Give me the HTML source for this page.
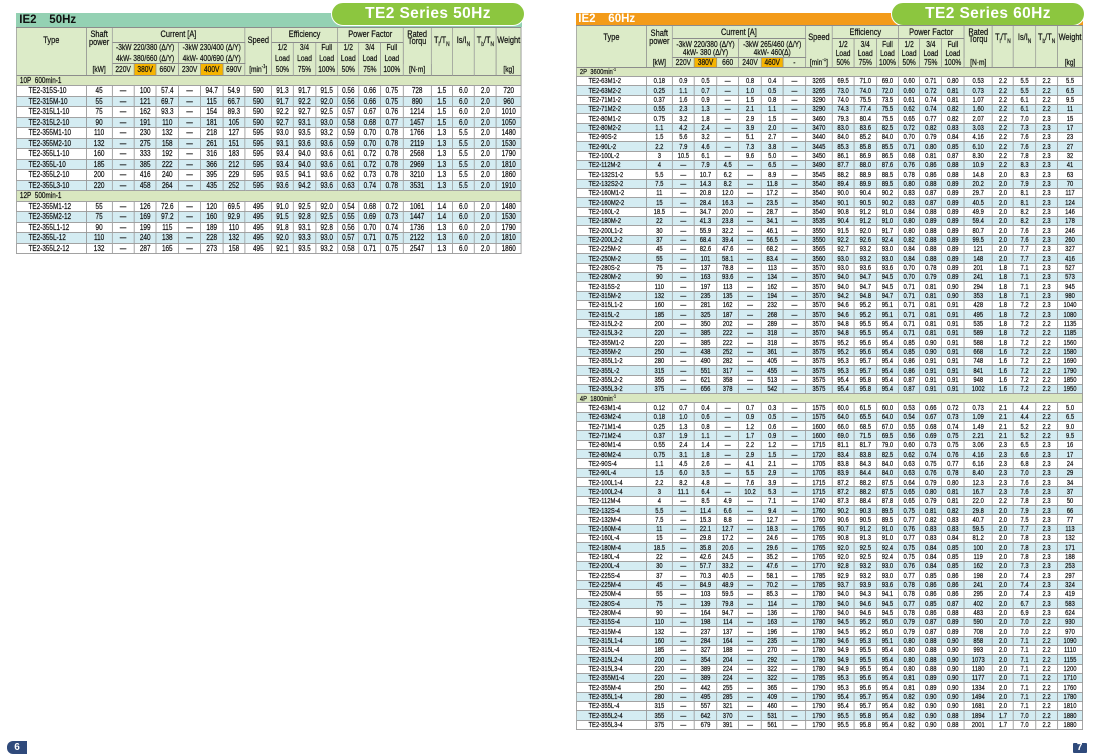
<!DOCTYPE html>
<html><head><meta charset="utf-8">
<style>
html,body{margin:0;padding:0}
body{width:1100px;height:756px;background:#fff;position:relative;overflow:hidden;font-family:"Liberation Sans",Arial,sans-serif}
.bar{position:absolute;font-weight:bold;font-size:11.5px;line-height:16px;white-space:nowrap}
.bar span{position:absolute;top:-1px}
.pill{position:absolute;top:2px;height:22px;width:192px;border-radius:12px;background:#8cc63f;border:1px solid #fff;color:#fff;font-weight:bold;font-size:15.5px;line-height:21px;text-align:center;letter-spacing:.4px}
.t{position:absolute;border-collapse:separate;border-spacing:0;table-layout:fixed;transform:scaleX(.78);transform-origin:0 0;border-left:1.28px solid #8c8c8c;border-top:1px solid #8c8c8c;color:#111;-webkit-text-stroke:0.22px #111}
.t td{padding:0;border-right:1.28px solid #8c8c8c;border-bottom:1px solid #a2a2a2;text-align:center;vertical-align:middle;white-space:nowrap;overflow:hidden;line-height:7.5px}
.t tr.h td{background:#dcebc8;font-size:8.5px;color:#111;border-bottom-color:#8c8c8c}
.t tr.ha td{font-size:9.5px}
.t td.nb{border-bottom:0}
.t td.vt{vertical-align:top}
.t td.y{background:#f6b400 !important}
.t tr.b td{background:#d4ecf2}
.t tr.g td{background:#d9e7c0}
.t tr:not(.h)>td:first-child{text-align:left;padding-left:15px}
.t tr.g>td:first-child{padding-left:4px}
sub,sup{font-size:65%;line-height:0}
.L{left:16px;top:26.7px;width:648.3px}
.L td{font-size:8.2px}
.L tr{height:10.5px}
.L tr.ha{height:15px}.L tr.hb{height:11px}.L tr.hc{height:10.6px}.L tr.hd{height:11.7px}
.R{left:576px;top:25.3px;width:650px}
.R td{font-size:7.5px}
.R tr{height:9.333px}
.R tr.ha{height:13px}.R tr.hb{height:10px}.R tr.hc{height:8.7px}.R tr.hd{height:9.7px}
.pg{position:absolute;background:#2f4a7b;color:#fff;font-weight:bold;font-size:10px;text-align:center}
</style></head><body>

<div class="bar" style="left:16px;top:12.7px;width:505.7px;height:14px;background:#94d1b3;color:#111">
<span style="left:3.3px">IE2</span><span style="left:33.3px">50Hz</span></div>
<div class="pill" style="left:331px">TE2 Series 50Hz</div>

<div class="bar" style="left:576px;top:12.7px;width:507px;height:12.6px;background:#f39b19;color:#fff">
<span style="left:2.3px;top:-1.6px">IE2</span><span style="left:32.3px;top:-1.6px">60Hz</span></div>
<div class="pill" style="left:891px">TE2 Series 60Hz</div>

<table class="t L">
<colgroup><col style="width:13.842%"><col style="width:5.082%"><col style="width:4.41%"><col style="width:4.35%"><col style="width:4.41%"><col style="width:4.429%"><col style="width:4.35%"><col style="width:4.41%"><col style="width:5.28%"><col style="width:4.271%"><col style="width:4.489%"><col style="width:4.291%"><col style="width:4.271%"><col style="width:4.291%"><col style="width:4.41%"><col style="width:5.616%"><col style="width:4.153%"><col style="width:4.41%"><col style="width:4.291%"><col style="width:4.944%"></colgroup>
<tr class="h ha"><td rowspan=4 class=vt style="padding-top:9.3px">Type<td rowspan=3 class="vt nb" style="padding-top:3.8px">Shaft<br>power<td colspan=6>Current [A]<td rowspan=3 class="vt nb" style="padding-top:9.3px">Speed<td colspan=3>Efficiency<td colspan=3>Power Factor<td rowspan=3 class="vt nb" style="padding-top:2.9px">Rated<br>Torqu<td rowspan=4 class=vt style="padding-top:9.3px">T<sub>l</sub>/T<sub>N</sub><td rowspan=4 class=vt style="padding-top:9.3px">Is/I<sub>N</sub><td rowspan=4 class=vt style="padding-top:9.3px">T<sub>b</sub>/T<sub>N</sub><td rowspan=3 class="vt nb" style="padding-top:9.3px">Weight
<tr class="h hb"><td colspan=3 class=nb>-3kW 220/380 (Δ/Y)<td colspan=3 class=nb>-3kW 230/400 (Δ/Y)<td class=nb>1/2<td class=nb>3/4<td class=nb>Full<td class=nb>1/2<td class=nb>3/4<td class=nb>Full
<tr class="h hc"><td colspan=3>4kW- 380/660 (Δ/Y)<td colspan=3>4kW- 400/690 (Δ/Y)<td class=nb>Load<td class=nb>Load<td class=nb>Load<td class=nb>Load<td class=nb>Load<td class=nb>Load
<tr class="h hd"><td>[kW]<td>220V<td class=y>380V<td>660V<td>230V<td class=y>400V<td>690V<td>[min<sup>-1</sup>]<td>50%<td>75%<td>100%<td>50%<td>75%<td>100%<td>[N·m]<td>[kg]
<tr class=g><td colspan=20>10P&nbsp; 600min-1
<tr><td>TE2-315S-10<td>45<td>—<td>100<td>57.4<td>—<td>94.7<td>54.9<td>590<td>91.3<td>91.7<td>91.5<td>0.56<td>0.66<td>0.75<td>728<td>1.5<td>6.0<td>2.0<td>720
<tr class=b><td>TE2-315M-10<td>55<td>—<td>121<td>69.7<td>—<td>115<td>66.7<td>590<td>91.7<td>92.2<td>92.0<td>0.56<td>0.66<td>0.75<td>890<td>1.5<td>6.0<td>2.0<td>960
<tr><td>TE2-315L1-10<td>75<td>—<td>162<td>93.3<td>—<td>154<td>89.3<td>590<td>92.2<td>92.7<td>92.5<td>0.57<td>0.67<td>0.76<td>1214<td>1.5<td>6.0<td>2.0<td>1010
<tr class=b><td>TE2-315L2-10<td>90<td>—<td>191<td>110<td>—<td>181<td>105<td>590<td>92.7<td>93.1<td>93.0<td>0.58<td>0.68<td>0.77<td>1457<td>1.5<td>6.0<td>2.0<td>1050
<tr><td>TE2-355M1-10<td>110<td>—<td>230<td>132<td>—<td>218<td>127<td>595<td>93.0<td>93.5<td>93.2<td>0.59<td>0.70<td>0.78<td>1766<td>1.3<td>5.5<td>2.0<td>1480
<tr class=b><td>TE2-355M2-10<td>132<td>—<td>275<td>158<td>—<td>261<td>151<td>595<td>93.1<td>93.6<td>93.6<td>0.59<td>0.70<td>0.78<td>2119<td>1.3<td>5.5<td>2.0<td>1530
<tr><td>TE2-355L1-10<td>160<td>—<td>333<td>192<td>—<td>316<td>183<td>595<td>93.4<td>94.0<td>93.6<td>0.61<td>0.72<td>0.78<td>2568<td>1.3<td>5.5<td>2.0<td>1790
<tr class=b><td>TE2-355L-10<td>185<td>—<td>385<td>222<td>—<td>366<td>212<td>595<td>93.4<td>94.0<td>93.6<td>0.61<td>0.72<td>0.78<td>2969<td>1.3<td>5.5<td>2.0<td>1810
<tr><td>TE2-355L2-10<td>200<td>—<td>416<td>240<td>—<td>395<td>229<td>595<td>93.5<td>94.1<td>93.6<td>0.62<td>0.73<td>0.78<td>3210<td>1.3<td>5.5<td>2.0<td>1860
<tr class=b><td>TE2-355L3-10<td>220<td>—<td>458<td>264<td>—<td>435<td>252<td>595<td>93.6<td>94.2<td>93.6<td>0.63<td>0.74<td>0.78<td>3531<td>1.3<td>5.5<td>2.0<td>1910
<tr class=g><td colspan=20>12P&nbsp; 500min-1
<tr><td>TE2-355M1-12<td>55<td>—<td>126<td>72.6<td>—<td>120<td>69.5<td>495<td>91.0<td>92.5<td>92.0<td>0.54<td>0.68<td>0.72<td>1061<td>1.4<td>6.0<td>2.0<td>1480
<tr class=b><td>TE2-355M2-12<td>75<td>—<td>169<td>97.2<td>—<td>160<td>92.9<td>495<td>91.5<td>92.8<td>92.5<td>0.55<td>0.69<td>0.73<td>1447<td>1.4<td>6.0<td>2.0<td>1530
<tr><td>TE2-355L1-12<td>90<td>—<td>199<td>115<td>—<td>189<td>110<td>495<td>91.8<td>93.1<td>92.8<td>0.56<td>0.70<td>0.74<td>1736<td>1.3<td>6.0<td>2.0<td>1790
<tr class=b><td>TE2-355L-12<td>110<td>—<td>240<td>138<td>—<td>228<td>132<td>495<td>92.0<td>93.3<td>93.0<td>0.57<td>0.71<td>0.75<td>2122<td>1.3<td>6.0<td>2.0<td>1810
<tr><td>TE2-355L2-12<td>132<td>—<td>287<td>165<td>—<td>273<td>158<td>495<td>92.1<td>93.5<td>93.2<td>0.58<td>0.71<td>0.75<td>2547<td>1.3<td>6.0<td>2.0<td>1860
</table>

<table class="t R">
<colgroup><col style="width:13.842%"><col style="width:5.082%"><col style="width:4.41%"><col style="width:4.35%"><col style="width:4.41%"><col style="width:4.429%"><col style="width:4.35%"><col style="width:4.41%"><col style="width:5.28%"><col style="width:4.271%"><col style="width:4.489%"><col style="width:4.291%"><col style="width:4.271%"><col style="width:4.291%"><col style="width:4.41%"><col style="width:5.616%"><col style="width:4.153%"><col style="width:4.41%"><col style="width:4.291%"><col style="width:4.944%"></colgroup>
<tr class="h ha"><td rowspan=4 class=vt style="padding-top:8px">Type<td rowspan=3 class="vt nb" style="padding-top:3.4px;line-height:8px">Shaft<br>power<td colspan=6>Current [A]<td rowspan=3 class="vt nb" style="padding-top:8px">Speed<td colspan=3>Efficiency<td colspan=3>Power Factor<td rowspan=3 class="vt nb" style="padding-top:2.6px;line-height:7px">Rated<br>Torqu<td rowspan=4 class=vt style="padding-top:8px">T<sub>l</sub>/T<sub>N</sub><td rowspan=4 class=vt style="padding-top:8px">Is/I<sub>N</sub><td rowspan=4 class=vt style="padding-top:8px">T<sub>b</sub>/T<sub>N</sub><td rowspan=3 class="vt nb" style="padding-top:8px">Weight
<tr class="h hb"><td colspan=3 class=nb>-3kW 220/380 (Δ/Y)<td colspan=3 class=nb>-3kW 265/460 (Δ/Y)<td class=nb>1/2<td class=nb>3/4<td class=nb>Full<td class=nb>1/2<td class=nb>3/4<td class=nb>Full
<tr class="h hc"><td colspan=3>4kW- 380 (Δ/Y)<td colspan=3>4kW- 460(Δ)<td class=nb>Load<td class=nb>Load<td class=nb>Load<td class=nb>Load<td class=nb>Load<td class=nb>Load
<tr class="h hd"><td>[kW]<td>220V<td class=y>380V<td>660<td>240V<td class=y>460V<td>-<td>[min<sup>-1</sup>]<td>50%<td>75%<td>100%<td>50%<td>75%<td>100%<td>[N·m]<td>[kg]
<tr class=g><td colspan=20>2P&nbsp; 3600min<sup>-1</sup>
<tr><td>TE2-63M1-2<td>0.18<td>0.9<td>0.5<td>—<td>0.8<td>0.4<td>—<td>3265<td>69.5<td>71.0<td>69.0<td>0.60<td>0.71<td>0.80<td>0.53<td>2.2<td>5.5<td>2.2<td>5.5
<tr class=b><td>TE2-63M2-2<td>0.25<td>1.1<td>0.7<td>—<td>1.0<td>0.5<td>—<td>3265<td>73.0<td>74.0<td>72.0<td>0.60<td>0.72<td>0.81<td>0.73<td>2.2<td>5.5<td>2.2<td>6.5
<tr><td>TE2-71M1-2<td>0.37<td>1.6<td>0.9<td>—<td>1.5<td>0.8<td>—<td>3290<td>74.0<td>75.5<td>73.5<td>0.61<td>0.74<td>0.81<td>1.07<td>2.2<td>6.1<td>2.2<td>9.5
<tr class=b><td>TE2-71M2-2<td>0.55<td>2.3<td>1.3<td>—<td>2.1<td>1.1<td>—<td>3290<td>74.3<td>77.4<td>75.5<td>0.62<td>0.74<td>0.82<td>1.60<td>2.2<td>6.1<td>2.2<td>11
<tr><td>TE2-80M1-2<td>0.75<td>3.2<td>1.8<td>—<td>2.9<td>1.5<td>—<td>3460<td>79.3<td>80.4<td>75.5<td>0.65<td>0.77<td>0.82<td>2.07<td>2.2<td>7.0<td>2.3<td>15
<tr class=b><td>TE2-80M2-2<td>1.1<td>4.2<td>2.4<td>—<td>3.9<td>2.0<td>—<td>3470<td>83.0<td>83.6<td>82.5<td>0.72<td>0.82<td>0.83<td>3.03<td>2.2<td>7.3<td>2.3<td>17
<tr><td>TE2-90S-2<td>1.5<td>5.6<td>3.2<td>—<td>5.1<td>2.7<td>—<td>3440<td>84.0<td>85.2<td>84.0<td>0.70<td>0.79<td>0.84<td>4.16<td>2.2<td>7.6<td>2.3<td>23
<tr class=b><td>TE2-90L-2<td>2.2<td>7.9<td>4.6<td>—<td>7.3<td>3.8<td>—<td>3445<td>85.3<td>85.8<td>85.5<td>0.71<td>0.80<td>0.85<td>6.10<td>2.2<td>7.6<td>2.3<td>27
<tr><td>TE2-100L-2<td>3<td>10.5<td>6.1<td>—<td>9.6<td>5.0<td>—<td>3450<td>86.1<td>86.9<td>86.5<td>0.68<td>0.81<td>0.87<td>8.30<td>2.2<td>7.8<td>2.3<td>32
<tr class=b><td>TE2-112M-2<td>4<td>—<td>7.9<td>4.5<td>—<td>6.5<td>—<td>3490<td>87.7<td>88.0<td>87.6<td>0.76<td>0.86<td>0.88<td>10.9<td>2.2<td>8.3<td>2.3<td>41
<tr><td>TE2-132S1-2<td>5.5<td>—<td>10.7<td>6.2<td>—<td>8.9<td>—<td>3545<td>88.2<td>88.9<td>88.5<td>0.78<td>0.86<td>0.88<td>14.8<td>2.0<td>8.3<td>2.3<td>63
<tr class=b><td>TE2-132S2-2<td>7.5<td>—<td>14.3<td>8.2<td>—<td>11.8<td>—<td>3540<td>89.4<td>89.9<td>89.5<td>0.80<td>0.88<td>0.89<td>20.2<td>2.0<td>7.9<td>2.3<td>70
<tr><td>TE2-160M1-2<td>11<td>—<td>20.8<td>12.0<td>—<td>17.2<td>—<td>3540<td>90.0<td>90.4<td>90.2<td>0.83<td>0.87<td>0.89<td>29.7<td>2.0<td>8.1<td>2.3<td>117
<tr class=b><td>TE2-160M2-2<td>15<td>—<td>28.4<td>16.3<td>—<td>23.5<td>—<td>3540<td>90.1<td>90.5<td>90.2<td>0.83<td>0.87<td>0.89<td>40.5<td>2.0<td>8.1<td>2.3<td>124
<tr><td>TE2-160L-2<td>18.5<td>—<td>34.7<td>20.0<td>—<td>28.7<td>—<td>3540<td>90.8<td>91.2<td>91.0<td>0.84<td>0.88<td>0.89<td>49.9<td>2.0<td>8.2<td>2.3<td>146
<tr class=b><td>TE2-180M-2<td>22<td>—<td>41.3<td>23.8<td>—<td>34.1<td>—<td>3535<td>90.4<td>91.2<td>91.0<td>0.80<td>0.89<td>0.89<td>59.4<td>2.0<td>8.2<td>2.3<td>178
<tr><td>TE2-200L1-2<td>30<td>—<td>55.9<td>32.2<td>—<td>46.1<td>—<td>3550<td>91.5<td>92.0<td>91.7<td>0.80<td>0.88<td>0.89<td>80.7<td>2.0<td>7.6<td>2.3<td>246
<tr class=b><td>TE2-200L2-2<td>37<td>—<td>68.4<td>39.4<td>—<td>56.5<td>—<td>3550<td>92.2<td>92.6<td>92.4<td>0.82<td>0.88<td>0.89<td>99.5<td>2.0<td>7.6<td>2.3<td>260
<tr><td>TE2-225M-2<td>45<td>—<td>82.6<td>47.6<td>—<td>68.2<td>—<td>3565<td>92.7<td>93.2<td>93.0<td>0.84<td>0.88<td>0.89<td>121<td>2.0<td>7.7<td>2.3<td>327
<tr class=b><td>TE2-250M-2<td>55<td>—<td>101<td>58.1<td>—<td>83.4<td>—<td>3560<td>93.0<td>93.2<td>93.0<td>0.84<td>0.88<td>0.89<td>148<td>2.0<td>7.7<td>2.3<td>416
<tr><td>TE2-280S-2<td>75<td>—<td>137<td>78.8<td>—<td>113<td>—<td>3570<td>93.0<td>93.6<td>93.6<td>0.70<td>0.78<td>0.89<td>201<td>1.8<td>7.1<td>2.3<td>527
<tr class=b><td>TE2-280M-2<td>90<td>—<td>163<td>93.6<td>—<td>134<td>—<td>3570<td>94.0<td>94.7<td>94.5<td>0.70<td>0.79<td>0.89<td>241<td>1.8<td>7.1<td>2.3<td>573
<tr><td>TE2-315S-2<td>110<td>—<td>197<td>113<td>—<td>162<td>—<td>3570<td>94.0<td>94.7<td>94.5<td>0.71<td>0.81<td>0.90<td>294<td>1.8<td>7.1<td>2.3<td>945
<tr class=b><td>TE2-315M-2<td>132<td>—<td>235<td>135<td>—<td>194<td>—<td>3570<td>94.2<td>94.8<td>94.7<td>0.71<td>0.81<td>0.90<td>353<td>1.8<td>7.1<td>2.3<td>980
<tr><td>TE2-315L1-2<td>160<td>—<td>281<td>162<td>—<td>232<td>—<td>3570<td>94.6<td>95.2<td>95.1<td>0.71<td>0.81<td>0.91<td>428<td>1.8<td>7.2<td>2.3<td>1040
<tr class=b><td>TE2-315L-2<td>185<td>—<td>325<td>187<td>—<td>268<td>—<td>3570<td>94.6<td>95.2<td>95.1<td>0.71<td>0.81<td>0.91<td>495<td>1.8<td>7.2<td>2.3<td>1080
<tr><td>TE2-315L2-2<td>200<td>—<td>350<td>202<td>—<td>289<td>—<td>3570<td>94.8<td>95.5<td>95.4<td>0.71<td>0.81<td>0.91<td>535<td>1.8<td>7.2<td>2.2<td>1135
<tr class=b><td>TE2-315L3-2<td>220<td>—<td>385<td>222<td>—<td>318<td>—<td>3570<td>94.8<td>95.5<td>95.4<td>0.71<td>0.81<td>0.91<td>589<td>1.8<td>7.2<td>2.2<td>1185
<tr><td>TE2-355M1-2<td>220<td>—<td>385<td>222<td>—<td>318<td>—<td>3575<td>95.2<td>95.6<td>95.4<td>0.85<td>0.90<td>0.91<td>588<td>1.8<td>7.2<td>2.2<td>1560
<tr class=b><td>TE2-355M-2<td>250<td>—<td>438<td>252<td>—<td>361<td>—<td>3575<td>95.2<td>95.6<td>95.4<td>0.85<td>0.90<td>0.91<td>668<td>1.6<td>7.2<td>2.2<td>1580
<tr><td>TE2-355L1-2<td>280<td>—<td>490<td>282<td>—<td>405<td>—<td>3575<td>95.3<td>95.7<td>95.4<td>0.86<td>0.91<td>0.91<td>748<td>1.6<td>7.2<td>2.2<td>1690
<tr class=b><td>TE2-355L-2<td>315<td>—<td>551<td>317<td>—<td>455<td>—<td>3575<td>95.3<td>95.7<td>95.4<td>0.86<td>0.91<td>0.91<td>841<td>1.6<td>7.2<td>2.2<td>1790
<tr><td>TE2-355L2-2<td>355<td>—<td>621<td>358<td>—<td>513<td>—<td>3575<td>95.4<td>95.8<td>95.4<td>0.87<td>0.91<td>0.91<td>948<td>1.6<td>7.2<td>2.2<td>1850
<tr class=b><td>TE2-355L3-2<td>375<td>—<td>656<td>378<td>—<td>542<td>—<td>3575<td>95.4<td>95.8<td>95.4<td>0.87<td>0.91<td>0.91<td>1002<td>1.6<td>7.2<td>2.2<td>1950
<tr class=g><td colspan=20>4P&nbsp; 1800min<sup>-1</sup>
<tr><td>TE2-63M1-4<td>0.12<td>0.7<td>0.4<td>—<td>0.7<td>0.3<td>—<td>1575<td>60.0<td>61.5<td>60.0<td>0.53<td>0.66<td>0.72<td>0.73<td>2.1<td>4.4<td>2.2<td>5.0
<tr class=b><td>TE2-63M2-4<td>0.18<td>1.0<td>0.6<td>—<td>0.9<td>0.5<td>—<td>1575<td>64.0<td>65.5<td>64.0<td>0.54<td>0.67<td>0.73<td>1.09<td>2.1<td>4.4<td>2.2<td>6.5
<tr><td>TE2-71M1-4<td>0.25<td>1.3<td>0.8<td>—<td>1.2<td>0.6<td>—<td>1600<td>66.0<td>68.5<td>67.0<td>0.55<td>0.68<td>0.74<td>1.49<td>2.1<td>5.2<td>2.2<td>9.0
<tr class=b><td>TE2-71M2-4<td>0.37<td>1.9<td>1.1<td>—<td>1.7<td>0.9<td>—<td>1600<td>69.0<td>71.5<td>69.5<td>0.56<td>0.69<td>0.75<td>2.21<td>2.1<td>5.2<td>2.2<td>9.5
<tr><td>TE2-80M1-4<td>0.55<td>2.4<td>1.4<td>—<td>2.2<td>1.2<td>—<td>1715<td>81.1<td>81.7<td>79.0<td>0.60<td>0.73<td>0.75<td>3.06<td>2.3<td>6.5<td>2.3<td>16
<tr class=b><td>TE2-80M2-4<td>0.75<td>3.1<td>1.8<td>—<td>2.9<td>1.5<td>—<td>1720<td>83.4<td>83.8<td>82.5<td>0.62<td>0.74<td>0.76<td>4.16<td>2.3<td>6.6<td>2.3<td>17
<tr><td>TE2-90S-4<td>1.1<td>4.5<td>2.6<td>—<td>4.1<td>2.1<td>—<td>1705<td>83.8<td>84.3<td>84.0<td>0.63<td>0.75<td>0.77<td>6.16<td>2.3<td>6.8<td>2.3<td>24
<tr class=b><td>TE2-90L-4<td>1.5<td>6.0<td>3.5<td>—<td>5.5<td>2.9<td>—<td>1705<td>83.9<td>84.4<td>84.0<td>0.63<td>0.76<td>0.78<td>8.40<td>2.3<td>7.0<td>2.3<td>29
<tr><td>TE2-100L1-4<td>2.2<td>8.2<td>4.8<td>—<td>7.6<td>3.9<td>—<td>1715<td>87.2<td>88.2<td>87.5<td>0.64<td>0.79<td>0.80<td>12.3<td>2.3<td>7.6<td>2.3<td>34
<tr class=b><td>TE2-100L2-4<td>3<td>11.1<td>6.4<td>—<td>10.2<td>5.3<td>—<td>1715<td>87.2<td>88.2<td>87.5<td>0.65<td>0.80<td>0.81<td>16.7<td>2.3<td>7.6<td>2.3<td>37
<tr><td>TE2-112M-4<td>4<td>—<td>8.5<td>4.9<td>—<td>7.1<td>—<td>1740<td>87.3<td>88.4<td>87.8<td>0.65<td>0.79<td>0.81<td>22.0<td>2.2<td>7.8<td>2.3<td>50
<tr class=b><td>TE2-132S-4<td>5.5<td>—<td>11.4<td>6.6<td>—<td>9.4<td>—<td>1760<td>90.2<td>90.3<td>89.5<td>0.75<td>0.81<td>0.82<td>29.8<td>2.0<td>7.9<td>2.3<td>66
<tr><td>TE2-132M-4<td>7.5<td>—<td>15.3<td>8.8<td>—<td>12.7<td>—<td>1760<td>90.6<td>90.5<td>89.5<td>0.77<td>0.82<td>0.83<td>40.7<td>2.0<td>7.5<td>2.3<td>77
<tr class=b><td>TE2-160M-4<td>11<td>—<td>22.1<td>12.7<td>—<td>18.3<td>—<td>1765<td>90.7<td>91.2<td>91.0<td>0.76<td>0.83<td>0.83<td>59.5<td>2.0<td>7.7<td>2.3<td>113
<tr><td>TE2-160L-4<td>15<td>—<td>29.8<td>17.2<td>—<td>24.6<td>—<td>1765<td>90.8<td>91.3<td>91.0<td>0.77<td>0.83<td>0.84<td>81.2<td>2.0<td>7.8<td>2.3<td>132
<tr class=b><td>TE2-180M-4<td>18.5<td>—<td>35.8<td>20.6<td>—<td>29.6<td>—<td>1765<td>92.0<td>92.5<td>92.4<td>0.75<td>0.84<td>0.85<td>100<td>2.0<td>7.8<td>2.3<td>171
<tr><td>TE2-180L-4<td>22<td>—<td>42.6<td>24.5<td>—<td>35.2<td>—<td>1765<td>92.0<td>92.5<td>92.4<td>0.75<td>0.84<td>0.85<td>119<td>2.0<td>7.8<td>2.3<td>188
<tr class=b><td>TE2-200L-4<td>30<td>—<td>57.7<td>33.2<td>—<td>47.6<td>—<td>1770<td>92.8<td>93.2<td>93.0<td>0.76<td>0.84<td>0.85<td>162<td>2.0<td>7.3<td>2.3<td>253
<tr><td>TE2-225S-4<td>37<td>—<td>70.3<td>40.5<td>—<td>58.1<td>—<td>1785<td>92.9<td>93.2<td>93.0<td>0.77<td>0.85<td>0.86<td>198<td>2.0<td>7.4<td>2.3<td>297
<tr class=b><td>TE2-225M-4<td>45<td>—<td>84.9<td>48.9<td>—<td>70.2<td>—<td>1785<td>93.7<td>93.9<td>93.6<td>0.78<td>0.86<td>0.86<td>241<td>2.0<td>7.4<td>2.3<td>324
<tr><td>TE2-250M-4<td>55<td>—<td>103<td>59.5<td>—<td>85.3<td>—<td>1780<td>94.0<td>94.3<td>94.1<td>0.78<td>0.86<td>0.86<td>295<td>2.0<td>7.4<td>2.3<td>419
<tr class=b><td>TE2-280S-4<td>75<td>—<td>139<td>79.8<td>—<td>114<td>—<td>1780<td>94.0<td>94.6<td>94.5<td>0.77<td>0.85<td>0.87<td>402<td>2.0<td>6.7<td>2.3<td>583
<tr><td>TE2-280M-4<td>90<td>—<td>164<td>94.7<td>—<td>136<td>—<td>1780<td>94.0<td>94.6<td>94.5<td>0.78<td>0.86<td>0.88<td>483<td>2.0<td>6.9<td>2.3<td>624
<tr class=b><td>TE2-315S-4<td>110<td>—<td>198<td>114<td>—<td>163<td>—<td>1780<td>94.5<td>95.2<td>95.0<td>0.79<td>0.87<td>0.89<td>590<td>2.0<td>7.0<td>2.2<td>930
<tr><td>TE2-315M-4<td>132<td>—<td>237<td>137<td>—<td>196<td>—<td>1780<td>94.5<td>95.2<td>95.0<td>0.79<td>0.87<td>0.89<td>708<td>2.0<td>7.0<td>2.2<td>970
<tr class=b><td>TE2-315L1-4<td>160<td>—<td>284<td>164<td>—<td>235<td>—<td>1780<td>94.6<td>95.3<td>95.1<td>0.80<td>0.88<td>0.90<td>858<td>2.0<td>7.1<td>2.2<td>1090
<tr><td>TE2-315L-4<td>185<td>—<td>327<td>188<td>—<td>270<td>—<td>1780<td>94.9<td>95.5<td>95.4<td>0.80<td>0.88<td>0.90<td>993<td>2.0<td>7.1<td>2.2<td>1110
<tr class=b><td>TE2-315L2-4<td>200<td>—<td>354<td>204<td>—<td>292<td>—<td>1780<td>94.9<td>95.5<td>95.4<td>0.80<td>0.88<td>0.90<td>1073<td>2.0<td>7.1<td>2.2<td>1155
<tr><td>TE2-315L3-4<td>220<td>—<td>389<td>224<td>—<td>322<td>—<td>1780<td>94.9<td>95.5<td>95.4<td>0.80<td>0.88<td>0.90<td>1180<td>2.0<td>7.1<td>2.2<td>1200
<tr class=b><td>TE2-355M1-4<td>220<td>—<td>389<td>224<td>—<td>322<td>—<td>1785<td>95.3<td>95.6<td>95.4<td>0.81<td>0.89<td>0.90<td>1177<td>2.0<td>7.1<td>2.2<td>1710
<tr><td>TE2-355M-4<td>250<td>—<td>442<td>255<td>—<td>365<td>—<td>1790<td>95.3<td>95.6<td>95.4<td>0.81<td>0.89<td>0.90<td>1334<td>2.0<td>7.1<td>2.2<td>1760
<tr class=b><td>TE2-355L1-4<td>280<td>—<td>495<td>285<td>—<td>409<td>—<td>1790<td>95.4<td>95.7<td>95.4<td>0.82<td>0.90<td>0.90<td>1494<td>2.0<td>7.1<td>2.2<td>1780
<tr><td>TE2-355L-4<td>315<td>—<td>557<td>321<td>—<td>460<td>—<td>1790<td>95.4<td>95.7<td>95.4<td>0.82<td>0.90<td>0.90<td>1681<td>2.0<td>7.1<td>2.2<td>1810
<tr class=b><td>TE2-355L2-4<td>355<td>—<td>642<td>370<td>—<td>531<td>—<td>1790<td>95.5<td>95.8<td>95.4<td>0.82<td>0.90<td>0.88<td>1894<td>1.7<td>7.0<td>2.2<td>1880
<tr><td>TE2-355L3-4<td>375<td>—<td>679<td>391<td>—<td>561<td>—<td>1790<td>95.5<td>95.8<td>95.4<td>0.82<td>0.90<td>0.88<td>2001<td>1.7<td>7.0<td>2.2<td>1880
</table>

<div class="pg" style="left:7.3px;top:741px;width:19.4px;height:13.3px;line-height:13.3px;border-radius:6px 0 0 6px">6</div>
<div class="pg" style="left:1072.7px;top:742.7px;width:14px;height:10.6px;line-height:10.6px;border-radius:1px">7</div>

</body></html>
